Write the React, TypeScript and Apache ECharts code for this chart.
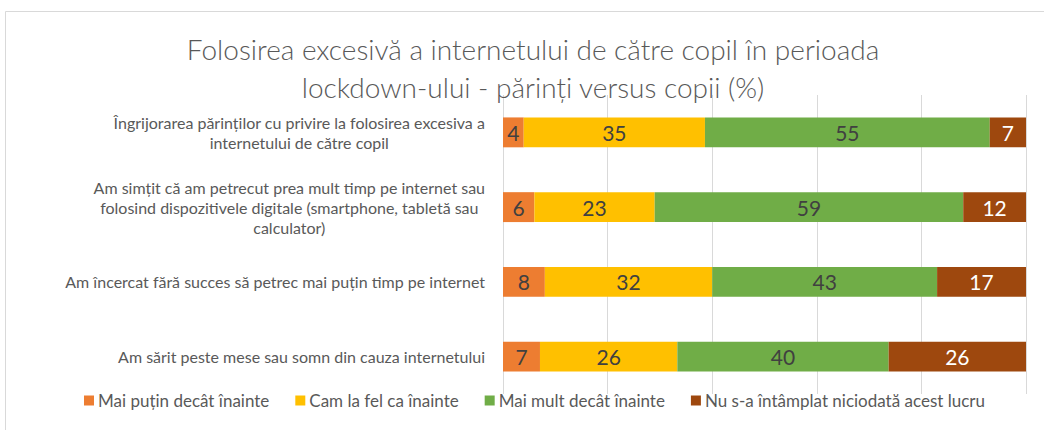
import React, { useEffect, useRef } from "react";
import * as echarts from "echarts";

const titleLines = [
  "Folosirea excesivă a internetului de către copil în perioada",
  "lockdown-ului - părinți versus copii (%)",
];

const categories = [
  "Îngrijorarea părinților cu privire la folosirea excesiva a\ninternetului de către copil",
  "Am simțit că am petrecut prea mult timp pe internet sau\nfolosind dispozitivele digitale (smartphone, tabletă sau\ncalculator)",
  "Am încercat fără succes să petrec mai puțin timp pe internet",
  "Am sărit peste mese sau somn din cauza internetului",
];

const seriesNames = [
  "Mai puțin decât înainte",
  "Cam la fel ca înainte",
  "Mai mult decât înainte",
  "Nu s-a întâmplat niciodată acest lucru",
];

const lessThanBefore = [4, 6, 8, 7];
const sameAsBefore = [35, 23, 32, 26];
const moreThanBefore = [55, 59, 43, 40];
const neverHappened = [7, 12, 17, 26];

const xTicks = [0, 20, 40, 60, 80, 100];

const colors = ["#ED7D31", "#FFC000", "#70AD47", "#9E480E"];
const labelColors = ["#404040", "#404040", "#404040", "#FFFFFF"];

const FONT = "Lato, 'Liberation Sans', sans-serif";

export default function App() {
  const ref = useRef<HTMLDivElement>(null);

  useEffect(() => {
    document.body.style.margin = "0";
    if (!ref.current) return;
    const chart = echarts.init(ref.current, null, { renderer: "svg" });
    const raw = [lessThanBefore, sameAsBefore, moreThanBefore, neverHappened];
    const totals = categories.map((_, i) => raw.reduce((s, arr) => s + arr[i], 0));

    const rich: Record<string, any> = {};
    categories.forEach((_, i) => {
      rich["r" + i] = {
        align: "center",
        fontSize: 16,
        lineHeight: 20,
        color: "#595959",
        fontFamily: FONT,
      };
    });

    chart.setOption({
      animation: false,
      textStyle: { fontFamily: FONT },
      title: {
        text: titleLines.join("\n"),
        left: 533,
        top: 30,
        padding: 0,
        textAlign: "center",
        textStyle: {
          fontSize: 28,
          fontWeight: 300,
          color: "#595959",
          lineHeight: 38,
          fontFamily: FONT,
        },
      },
      graphic: [
        {
          type: "rect",
          shape: { x: 5.5, y: 11.5, width: 1100, height: 600 },
          style: { fill: "none", stroke: "#D9D9D9", lineWidth: 1 },
          silent: true,
        },
      ],
      legend: {
        top: 392,
        left: 84,
        padding: 0,
        icon: "rect",
        itemWidth: 10,
        itemHeight: 10,
        itemGap: 26,
        textStyle: { fontSize: 17, color: "#595959", fontFamily: FONT, padding: [0, 0, 0, -1] },
        data: seriesNames,
      },
      grid: { left: 503, right: 18, top: 95, bottom: 36, containLabel: false },
      xAxis: {
        type: "value",
        min: xTicks[0],
        max: xTicks[xTicks.length - 1],
        interval: xTicks[1] - xTicks[0],
        axisLabel: { show: false },
        axisLine: { show: false },
        axisTick: { show: false },
        splitLine: { show: true, lineStyle: { color: "#D9D9D9", width: 1 } },
      },
      yAxis: {
        type: "category",
        inverse: true,
        data: categories,
        axisLine: { show: false },
        axisTick: { show: false },
        axisLabel: {
          margin: 18,
          align: "right",
          formatter: (value: string, idx: number) =>
            value
              .split("\n")
              .map((l) => `{r${idx}|${l}}`)
              .join("\n"),
          rich,
        },
      },
      series: raw.map((arr, si) => ({
        name: seriesNames[si],
        type: "bar",
        stack: "total",
        barCategoryGap: "60%",
        itemStyle: { color: colors[si] },
        label: {
          show: true,
          position: "inside",
          fontSize: 21,
          color: labelColors[si],
          fontFamily: FONT,
          formatter: (p: any) => String(arr[p.dataIndex]),
        },
        data: arr.map((v, i) => (v / totals[i]) * 100),
      })),
    });
    return () => chart.dispose();
  }, []);

  return <div ref={ref} style={{ width: 1044, height: 430 }} />;
}
